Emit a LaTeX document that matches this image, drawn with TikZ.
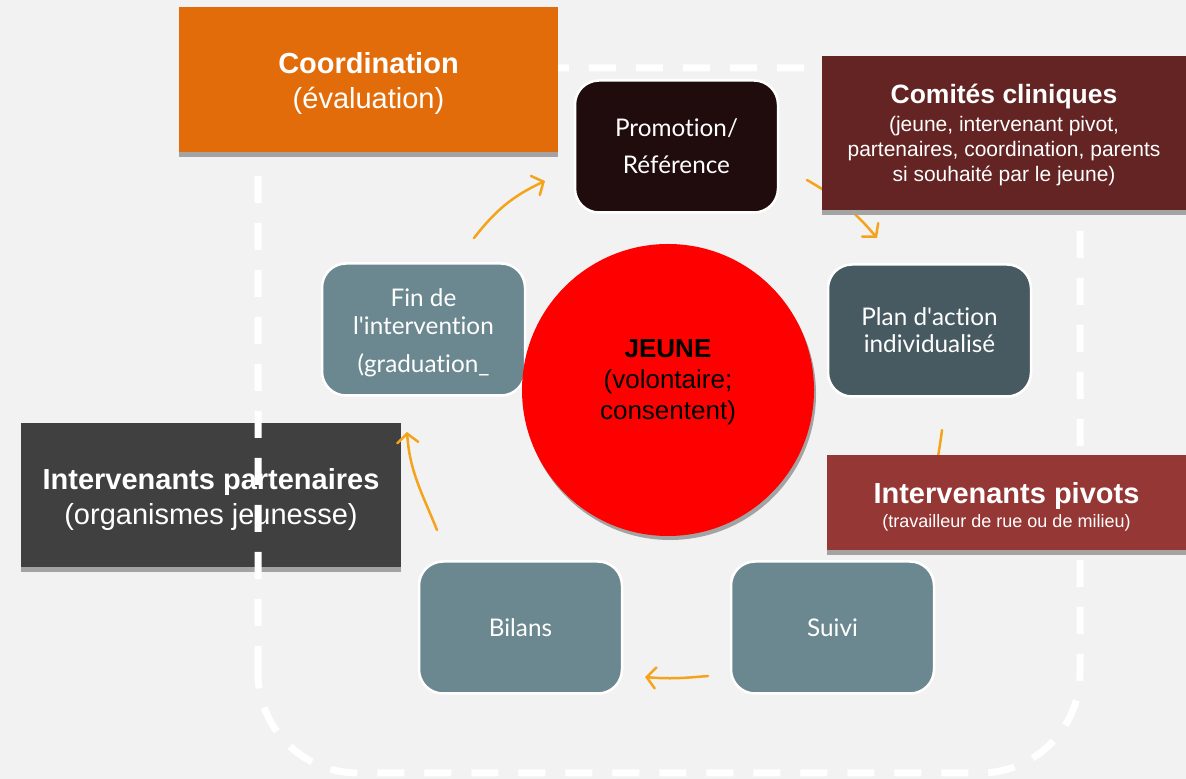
\documentclass[tikz,border=0pt]{standalone}
\usepackage{fontspec}
\setmainfont{Liberation Sans}
\newfontfamily\gillfont{Lato}[Ligatures={CommonOff}]
\usepackage{tikz}
\usetikzlibrary{arrows.meta,shadows}

\definecolor{bgcol}{HTML}{F2F2F2}
\definecolor{coordcol}{HTML}{E36C0A}
\definecolor{promcol}{HTML}{200C0C}
\definecolor{comitecol}{HTML}{632423}
\definecolor{plancol}{HTML}{475A61}
\definecolor{stepcol}{HTML}{6B8890}
\definecolor{partcol}{HTML}{404040}
\definecolor{pivotcol}{HTML}{953735}
\definecolor{flowcol}{HTML}{F5A31A}
\definecolor{shadcol}{HTML}{A3A3A3}

\begin{document}
\begin{tikzpicture}[x=1pt, y=1pt,
	bigbox/.style={rectangle, text=white, align=center, inner sep=0pt,
		drop shadow={shadow xshift=0pt, shadow yshift=-5pt, fill=shadcol, opacity=1}},
	stepbox/.style={rectangle, rounded corners=24pt, draw=white, line width=2.5pt,
		fill=stepcol, text=white, align=center, inner sep=0pt,
		minimum width=203pt, minimum height=132pt,
		font=\gillfont\fontsize{24.3}{28}\selectfont},
	flow/.style={color=flowcol, line width=2.5pt, line cap=round,
		-{Straight Barb[length=9pt, width=21pt, line cap=round]}}
]
\useasboundingbox (0,0) rectangle (1186,779);
\fill[bgcol] (0,0) rectangle (1186,779);

% partners box sits under the dashed frame
\node (part) [bigbox, fill=partcol, minimum width=380pt, minimum height=144pt,
	font=\fontsize{29}{35}\selectfont] at (211,284)
	{\mbox{}\\[-4pt]\textbf{Intervenants partenaires}\\(organismes jeunesse)};

\draw[white, line width=7pt, dash pattern=on 27pt off 20pt, rounded corners=100pt]
	(258,6) rectangle (1080,711);

% arrows
\coordinate (f1) at (474,541);
\coordinate (t1) at (545,598);
\coordinate (f2) at (807,599);
\coordinate (t2) at (877,541);
\coordinate (f3) at (942,349);
\coordinate (t3) at (935,300);
\coordinate (f4) at (708,103);
\coordinate (t4) at (645,102);
\coordinate (f5) at (437,249);
\coordinate (t5) at (407,347);
\path[flow]
(f1) edge [out=52, in=205] (t1)
(f2) edge [out=-30, in=130] (t2)
(f3) edge [out=-97, in=84] (t3)
(f4) edge [out=185, in=-5] (t4)
(f5) edge [out=112, in=-86] (t5)
;

\node (coord) [bigbox, fill=coordcol, minimum width=379pt, minimum height=145pt,
	font=\fontsize{29}{35}\selectfont] at (368.5,699.5)
	{\mbox{}\\[-6pt]\textbf{Coordination}\\(évaluation)};
\node (comite) [bigbox, fill=comitecol, minimum width=364pt, minimum height=154pt,
	font=\fontsize{21}{25}\selectfont] at (1004,646)
	{\mbox{}\\[-1pt]{\fontsize{26.5}{30}\selectfont\bfseries Comités cliniques}\\[3pt](jeune, intervenant pivot,\\partenaires, coordination, parents\\si souhaité par le jeune)};
\node (pivot) [bigbox, fill=pivotcol, minimum width=359pt, minimum height=95pt,
	font=\fontsize{18}{28}\selectfont] at (1006.5,276.5)
	{\mbox{}\\[2pt]{\fontsize{29}{28}\selectfont\bfseries Intervenants pivots}\\[-4pt](travailleur de rue ou de milieu)};

\node (prom) [stepbox, fill=promcol] at (676.5,632.5) {Promotion/\\[9pt]Référence};
\node (plan) [stepbox, fill=plancol] at (929.5,448.5) {Plan d\textquotesingle action\\[-1pt]individualisé};
\node (fin)  [stepbox] at (423.5,449.5) {\mbox{}\\[-3.5pt]Fin de\\l\textquotesingle intervention\\[10pt](graduation\_};
\node (bilans) [stepbox] at (520.5,151.5) {Bilans};
\node (suivi)  [stepbox] at (832.5,151.5) {Suivi};

\node (jeune) [circle, fill=red, minimum size=292pt, inner sep=0pt, align=center,
	drop shadow={shadow xshift=2pt, shadow yshift=-4pt, fill=shadcol, opacity=1},
	font=\fontsize{26}{31}\selectfont] at (668,389)
	{\textbf{JEUNE}\\(volontaire;\\consentent)\\[-10pt]\mbox{}};
\end{tikzpicture}
\end{document}
